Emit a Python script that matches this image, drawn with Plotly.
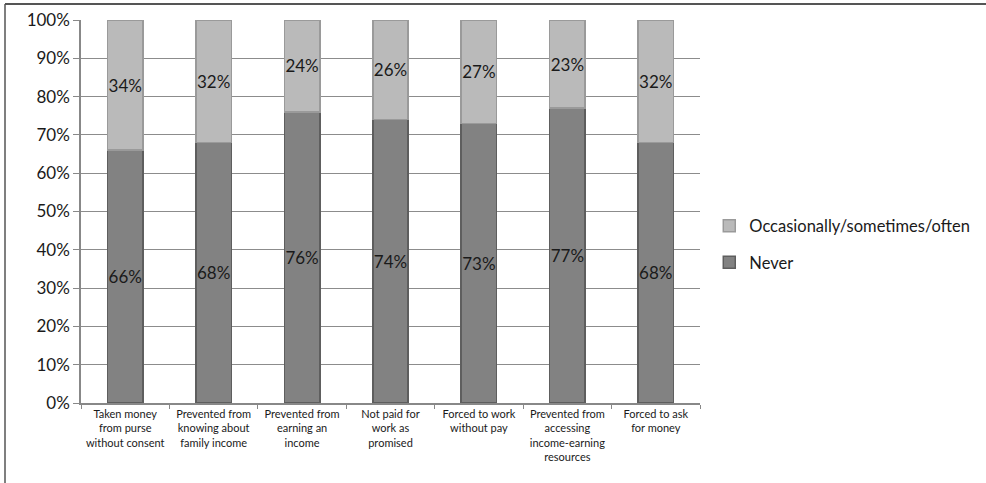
import plotly.graph_objects as go

categories = [
    "Taken money<br>from purse<br>without consent",
    "Prevented from<br>knowing about<br>family income",
    "Prevented from<br>earning an<br>income",
    "Not paid for<br>work as<br>promised",
    "Forced to work<br>without pay",
    "Prevented from<br>accessing<br>income-earning<br>resources",
    "Forced to ask<br>for money",
]
never = [66, 68, 76, 74, 73, 77, 68]
occasionally = [34, 32, 24, 26, 27, 23, 32]
y_ticks = [0, 10, 20, 30, 40, 50, 60, 70, 80, 90, 100]

FONT = "Lato, Calibri, Carlito, sans-serif"
W, H = 986, 483
ML, MR, MT, MB = 81, 286, 20, 80

fig = go.Figure()
fig.add_trace(go.Bar(
    x=categories, y=never, name="Never",
    marker=dict(color="#828282", line=dict(color="#5e5e5e", width=1.5)),
    text=[f"{v}%" for v in never], textposition="inside", textangle=0,
    insidetextanchor="middle", constraintext="none",
    textfont=dict(family=FONT, size=17, color="#1a1a1a"),
    legendgroup="a", legendrank=2,
))
fig.add_trace(go.Bar(
    x=categories, y=occasionally, name="Occasionally/sometimes/often",
    marker=dict(color="#bababa", line=dict(color="#9a9a9a", width=1.5)),
    text=[f"{v}%" for v in occasionally], textposition="inside", textangle=0,
    insidetextanchor="middle", constraintext="none",
    textfont=dict(family=FONT, size=17, color="#1a1a1a"),
    legendgroup="b", legendrank=1,
))

fig.update_layout(
    width=W, height=H,
    barmode="stack", bargap=0.6,
    plot_bgcolor="white", paper_bgcolor="white",
    margin=dict(l=ML, r=MR, t=MT, b=MB, autoexpand=False),
    font=dict(family=FONT, color="#1a1a1a"),
    uniformtext=dict(mode="show", minsize=17),
    legend=dict(
        x=1.015, y=0.415, xanchor="left", yanchor="middle",
        traceorder="grouped", tracegroupgap=12,
        font=dict(family=FONT, size=16.5, color="#1a1a1a"),
        itemwidth=30, bgcolor="rgba(0,0,0,0)",
    ),
    xaxis=dict(
        tickson="boundaries", ticks="outside", ticklen=4,
        tickcolor="#888", showline=True, linecolor="#888", linewidth=1.5,
        tickfont=dict(family=FONT, size=11, color="#1a1a1a"),
        tickangle=0, showgrid=False,
    ),
    yaxis=dict(
        range=[0, 100], tickvals=y_ticks,
        ticktext=[f"{v}%" for v in y_ticks],
        ticks="outside", ticklen=6, tickcolor="#888",
        showline=True, linecolor="#888", linewidth=1.5,
        showgrid=True, gridcolor="#8c8c8c", gridwidth=1,
        tickfont=dict(family=FONT, size=17, color="#1a1a1a"),
        zeroline=False,
    ),
)

# outer frame lines along the top and left edge
pw, ph = W - ML - MR, H - MT - MB
fx0 = (5 - ML) / pw
fy1 = (H - MB - 4) / ph
fig.add_shape(type="line", xref="paper", yref="paper",
              x0=fx0, x1=(W - ML) / pw, y0=fy1, y1=fy1,
              line=dict(color="#555", width=2))
fig.add_shape(type="line", xref="paper", yref="paper",
              x0=fx0, x1=fx0, y0=fy1, y1=-MB / ph,
              line=dict(color="#555", width=1.5))

fig.write_html("out.html")
